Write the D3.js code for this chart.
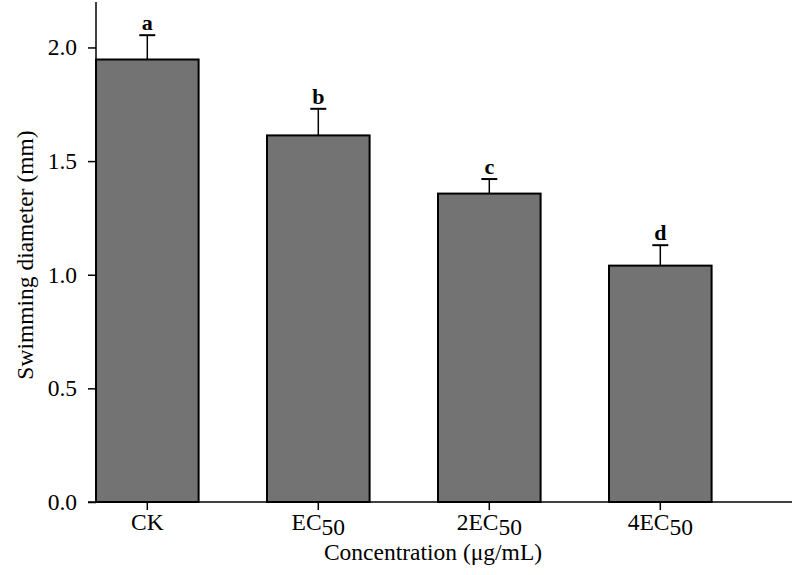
<!DOCTYPE html>
<html>
<head>
<meta charset="utf-8">
<script src="https://d3js.org/d3.v7.min.js"></script>
<style>
body { margin: 0; background: #fff; }
svg { display: block; font-family: "Liberation Serif", "Times New Roman", serif; }
</style>
</head>
<body>
<svg id="chart" width="793" height="575"></svg>
<script>
const categories = ["CK", "EC", "2EC", "4EC"];
const subscripts = ["", "50", "50", "50"];
const values = [1.947, 1.613, 1.357, 1.040];
const errors = [0.107, 0.117, 0.064, 0.090];
const letters = ["a", "b", "c", "d"];
const yTicks = [0.0, 0.5, 1.0, 1.5, 2.0];

const svg = d3.select("#chart");
const x0 = 96, xEnd = 792, yBase = 502, yTop = 2;

const y = d3.scaleLinear().domain([0, 2.2]).range([yBase, yTop]);
const x = d3.scaleBand().domain(categories).range([x0, 711.6])
  .paddingInner(0.4).paddingOuter(0).align(0);

// bars
svg.selectAll("rect.bar").data(categories).enter().append("rect")
  .attr("class", "bar")
  .attr("x", d => x(d))
  .attr("y", (d, i) => y(values[i]))
  .attr("width", x.bandwidth())
  .attr("height", (d, i) => y(0) - y(values[i]))
  .attr("fill", "#737373")
  .attr("stroke", "#000")
  .attr("stroke-width", 2);

// error bars
const capW = 16;
categories.forEach((c, i) => {
  const cx = x(c) + x.bandwidth() / 2;
  const top = y(values[i] + errors[i]);
  svg.append("line").attr("x1", cx).attr("x2", cx)
    .attr("y1", y(values[i])).attr("y2", top)
    .attr("stroke", "#000").attr("stroke-width", 1.5);
  svg.append("line").attr("x1", cx - capW / 2).attr("x2", cx + capW / 2)
    .attr("y1", top).attr("y2", top)
    .attr("stroke", "#000").attr("stroke-width", 2);
  svg.append("text").attr("x", cx).attr("y", top - 5)
    .attr("text-anchor", "middle")
    .attr("font-size", 22).attr("font-weight", "bold")
    .text(letters[i]);
});

// y axis
const yAxis = d3.axisLeft(y).tickValues(yTicks).tickFormat(d3.format(".1f")).tickSize(8).tickPadding(11);
const gy = svg.append("g").attr("transform", `translate(${x0},0)`).call(yAxis);
gy.select(".domain").remove();
gy.selectAll(".tick line").attr("stroke", "#000").attr("stroke-width", 1.5);
gy.selectAll(".tick text").attr("font-size", 23.5).attr("fill", "#000")
  .attr("font-family", "Liberation Serif, serif");
svg.append("line").attr("x1", x0).attr("x2", x0).attr("y1", yTop).attr("y2", yBase)
  .attr("stroke", "#000").attr("stroke-width", 1.5);

// x axis
svg.append("line").attr("x1", x0 - 8).attr("x2", xEnd).attr("y1", yBase).attr("y2", yBase)
  .attr("stroke", "#000").attr("stroke-width", 1.5);
const xAxis = d3.axisBottom(x).tickSize(8).tickFormat("");
const gx = svg.append("g").attr("transform", `translate(0,${yBase})`).call(xAxis);
gx.select(".domain").remove();
gx.selectAll(".tick line").attr("stroke", "#000").attr("stroke-width", 1.5);

categories.forEach((c, i) => {
  const cx = x(c) + x.bandwidth() / 2;
  const t = svg.append("text").attr("x", cx).attr("y", 530)
    .attr("text-anchor", "middle").attr("font-size", 23.5);
  t.append("tspan").text(c);
  if (subscripts[i]) t.append("tspan").attr("dy", 5).text(subscripts[i]);
});

// axis titles
svg.append("text").attr("x", 433).attr("y", 560).attr("text-anchor", "middle")
  .attr("font-size", 23.5).text("Concentration (μg/mL)");
svg.append("text").attr("transform", "translate(33,255) rotate(-90)")
  .attr("text-anchor", "middle").attr("font-size", 23.5).text("Swimming diameter (mm)");
</script>
</body>
</html>
